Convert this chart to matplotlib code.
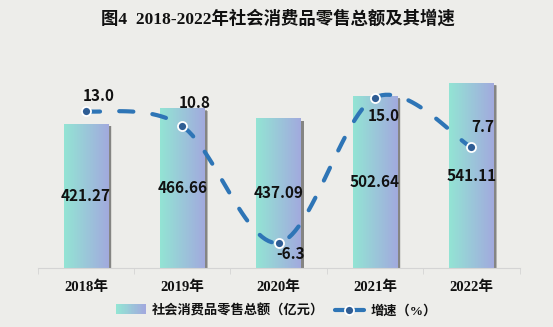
import numpy as np
import matplotlib
matplotlib.use("Agg")
from matplotlib import pyplot as plt
from matplotlib.patches import Rectangle
from matplotlib.lines import Line2D
from matplotlib.legend_handler import HandlerBase

plt.rcParams['font.family'] = ['Noto Sans CJK SC', 'DejaVu Sans']

# data
years = ['2018年', '2019年', '2020年', '2021年', '2022年']
sales = [421.27, 466.66, 437.09, 502.64, 541.11]      # 亿元
growth = [13.0, 10.8, -6.3, 15.0, 7.7]                 # %

title = '图4  2018-2022年社会消费品零售总额及其增速'
bar_name = '社会消费品零售总额（亿元）'
line_name = '增速（%）'

bg = '#ededea'
c_left = np.array([0x93, 0xe4, 0xd4]) / 255
c_right = np.array([0xa2, 0xaa, 0xde]) / 255
line_c = '#2e75b6'
mark_c = '#2f5d94'
serif_cjk = ['Liberation Serif', 'Noto Sans CJK SC']
num_font = ['Noto Sans CJK SC', 'DejaVu Sans']

W, H = 553, 327
fig = plt.figure(figsize=(W / 100, H / 100), dpi=100, facecolor=bg)
ax = fig.add_axes([37.7 / W, (H - 268) / H, (519.6 - 37.7) / W, 204.6 / H])
ax.set_facecolor('none')
x = np.arange(len(years))
bw = 0.46

# bars: shadow + horizontal gradient
grad = np.linspace(0, 1, 64)[None, :, None]
img = c_left[None, None, :] * (1 - grad) + c_right[None, None, :] * grad
for xi, v in zip(x, sales):
    for k, a in enumerate([0.10, 0.20, 0.35]):
        off = 0.012 * (3 - k)
        ax.add_patch(Rectangle((xi - bw / 2 + 0.025 + off * 0.3, 0), bw, v - 4 - off * 60,
                               facecolor='#2a2a2a', edgecolor='none', alpha=a, zorder=1))
    ax.imshow(img, extent=(xi - bw / 2, xi + bw / 2, 0, v), aspect='auto', zorder=2,
              interpolation='bilinear')
    ax.text(xi, v / 2, f'{v:.2f}', ha='center', va='center', fontsize=11,
            fontweight='bold', family=num_font, color='#111111', zorder=5)
ax.set_xlim(-0.5, len(years) - 0.5)
ax.set_ylim(0, 600)

for s in ['top', 'left', 'right']:
    ax.spines[s].set_visible(False)
ax.spines['bottom'].set_color('#d4d4d4')
ax.set_yticks([])
ax.set_xticks(x)
ax.set_xticklabels(years, fontsize=10.5, fontweight='bold', family=serif_cjk, color='#111111')
ax.tick_params(axis='x', which='major', length=0, pad=9)
ax.set_xticks(np.arange(-0.5, len(years)), minor=True)
ax.tick_params(axis='x', which='minor', length=4.5, color='#d4d4d4')

# growth line, smoothed in screen proportions (Bezier, Excel-like)
ax2 = ax.twinx()
ax2.set_ylim(-10, 20)
ax2.axis('off')
sx, sy = 96.4, 204.6 / 30
px = x * sx
py = np.array(growth) * sy
pts = np.column_stack([px, py])
ext = np.vstack([pts[0], pts, pts[-1]])
t = np.linspace(0, 1, 30)[:, None]
curve = []
for i in range(len(pts) - 1):
    p0, p1, p2, p3 = ext[i], ext[i + 1], ext[i + 2], ext[i + 3]
    c1 = p1 + (p2 - p0) / 6
    c2 = p2 - (p3 - p1) / 6
    seg = (1 - t) ** 3 * p1 + 3 * (1 - t) ** 2 * t * c1 + 3 * (1 - t) * t ** 2 * c2 + t ** 3 * p2
    curve.append(seg if i == 0 else seg[1:])
curve = np.vstack(curve)
ax2.plot(curve[:, 0] / sx, curve[:, 1] / sy, color=line_c, lw=3.0,
         dashes=(3.4, 4.6), dash_capstyle='round', zorder=6)
ax2.plot(x, growth, 'o', ms=6.5, color=mark_c, mec='white', mew=1.3, zorder=7)

offs = [(13, 15), (12.5, 23), (12, -11), (9, -18), (11.5, 20)]
for xi, g, o in zip(x, growth, offs):
    ax2.annotate(f'{g:.1f}', (xi, g), xytext=o, textcoords='offset pixels',
                 ha='center', va='center', fontsize=11, fontweight='bold',
                 family=num_font, color='#111111', zorder=8)

fig.text(0.502, 1 - 19 / H, title, ha='center', va='center', fontsize=12.5,
         fontweight='bold', family=serif_cjk, color='#111111')


# legend
class GradHandler(HandlerBase):
    def create_artists(self, legend, orig, xd, yd, width, height, fontsize, trans):
        out = []
        n = 20
        for k in range(n):
            f = k / (n - 1)
            col = c_left * (1 - f) + c_right * f
            out.append(Rectangle((xd + width * k / n, yd), width / n + 0.3, height,
                                 facecolor=col, edgecolor='none', transform=trans))
        return out


bar_handle = Rectangle((0, 0), 1, 1)
line_handle = Line2D([], [], color=line_c, lw=3.0, marker='o', ms=6.5,
                     mfc=mark_c, mec='white', mew=1.3, solid_capstyle='round')
fig.legend([bar_handle, line_handle], [bar_name, line_name],
           handler_map={bar_handle: GradHandler()},
           loc='center', bbox_to_anchor=(0.5, 1 - 311 / H), ncol=2, frameon=False,
           prop={'size': 9.5, 'weight': 'bold', 'family': serif_cjk},
           handlelength=2.2, handleheight=0.8, columnspacing=0.8, handletextpad=0.5,
           labelcolor='#111111')

fig.savefig('out.png', dpi=100, facecolor=bg)
